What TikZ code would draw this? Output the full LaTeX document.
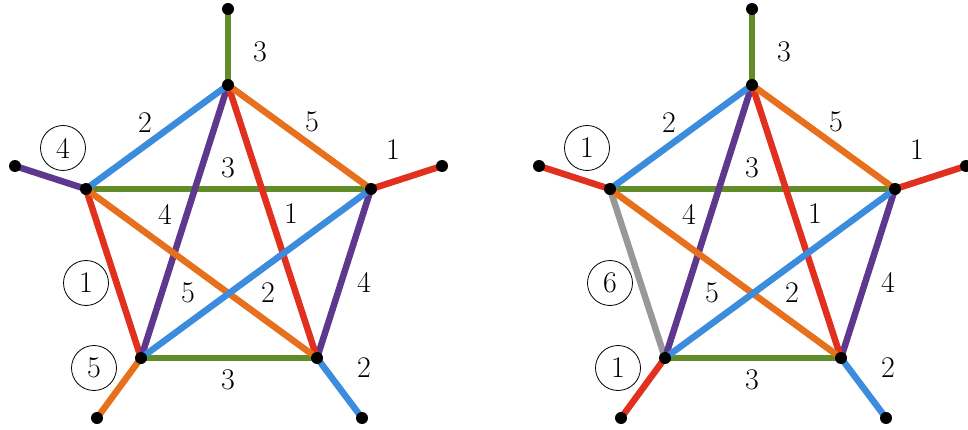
\documentclass[tikz,border=0pt]{standalone}
\usetikzlibrary{backgrounds}
\definecolor{cR}{RGB}{226,48,30}
\definecolor{cB}{RGB}{60,140,222}
\definecolor{cG}{RGB}{98,140,42}
\definecolor{cP}{RGB}{94,56,140}
\definecolor{cO}{RGB}{230,112,28}
\definecolor{cY}{RGB}{152,152,152}
\tikzset{
  dot/.style={circle,fill=black,inner sep=0pt,minimum size=12pt},
  edge/.style={line width=6.5pt},
  lab/.style={font=\fontsize{30}{32}\selectfont,inner sep=0pt},
  clab/.style={circle,draw,line width=0.8pt,minimum size=45pt,inner sep=0pt,font=\fontsize{30}{32}\selectfont},
}
% #1 prefix, #2 left pendant colour, #3 L-BL colour, #4 BL pendant colour, #5..#7 circled texts
\newcommand\mygraph[7]{%
  \node[dot] (#1T) at (228,85) {};
  \node[dot] (#1L) at (86,189) {};
  \node[dot] (#1R) at (371,189) {};
  \node[dot] (#1BL) at (141,358) {};
  \node[dot] (#1BR) at (317,358) {};
  \node[dot] (#1pT) at (228,9) {};
  \node[dot] (#1pL) at (15,166) {};
  \node[dot] (#1pR) at (442,166) {};
  \node[dot] (#1pBL) at (97,418) {};
  \node[dot] (#1pBR) at (362,418) {};
  \begin{pgfonlayer}{background}
    \draw[edge,cG] (#1T.center) -- (#1pT.center);
    \draw[edge,#2] (#1L.center) -- (#1pL.center);
    \draw[edge,cR] (#1R.center) -- (#1pR.center);
    \draw[edge,#4] (#1BL.center) -- (#1pBL.center);
    \draw[edge,cB] (#1BR.center) -- (#1pBR.center);
    \draw[edge,cG] (#1L.center) -- (#1R.center);
    \draw[edge,cG] (#1BL.center) -- (#1BR.center);
    \draw[edge,#3] (#1L.center) -- (#1BL.center);
    \draw[edge,cP] (#1R.center) -- (#1BR.center);
    \draw[edge,cP] (#1T.center) -- (#1BL.center);
    \draw[edge,cR] (#1T.center) -- (#1BR.center);
    \draw[edge,cO] (#1L.center) -- (#1BR.center);
    \draw[edge,cB] (#1R.center) -- (#1BL.center);
    \draw[edge,cB] (#1T.center) -- (#1L.center);
    \draw[edge,cO] (#1T.center) -- (#1R.center);
  \end{pgfonlayer}
  \node[lab] (#1a) at (260,52) {3};
  \node[lab] (#1b) at (145,123) {2};
  \node[lab] (#1c) at (312,122) {5};
  \node[lab] (#1d) at (393,150) {1};
  \node[lab] (#1e) at (228,168) {3};
  \node[lab] (#1f) at (165,214) {4};
  \node[lab] (#1g) at (291,214) {1};
  \node[lab] (#1h) at (188,293) {5};
  \node[lab] (#1i) at (268,293) {2};
  \node[lab] (#1j) at (364,282) {4};
  \node[lab] (#1k) at (228,380) {3};
  \node[lab] (#1l) at (364,368) {2};
  \node[clab] (#1m) at (63,148) {#5};
  \node[clab] (#1n) at (86,283) {#6};
  \node[clab] (#1o) at (94,368) {#7};
}
\begin{document}
\begin{tikzpicture}[x=1pt,y=-1pt]
\useasboundingbox (0,0) rectangle (968,430);
\begin{scope}
  \mygraph{A}{cP}{cR}{cO}{4}{1}{5}
\end{scope}
\begin{scope}[xshift=524pt]
  \mygraph{B}{cR}{cY}{cR}{1}{6}{1}
\end{scope}
\end{tikzpicture}
\end{document}
